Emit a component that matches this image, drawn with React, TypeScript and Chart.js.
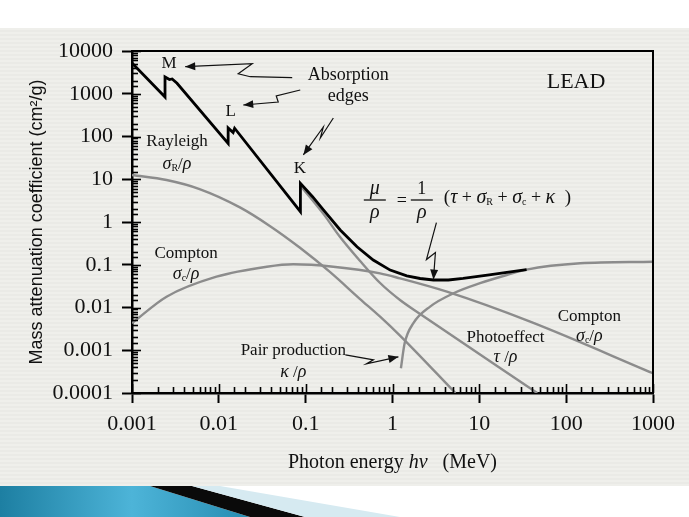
import React, { useEffect, useRef } from 'react';
import { Chart, registerables } from 'chart.js';

Chart.register(...registerables);

// ---------------- data ----------------
const xTickLabels = ['0.001', '0.01', '0.1', '1', '10', '100', '1000'];
const yTickLabels = ['0.0001', '0.001', '0.01', '0.1', '1', '10', '100', '1000', '10000'];

// total mu/rho (black), with M, L and K absorption edges
const totalEnergy = [0.001, 0.0024, 0.0024, 0.0027, 0.0029, 0.0033, 0.0128, 0.0128, 0.0146, 0.0152, 0.087, 0.087, 0.12, 0.16, 0.25, 0.39, 0.6, 0.94, 1.46, 2.08, 2.96, 4.4, 6.5, 13, 20.7, 35];
const totalMu = [5230, 840, 2470, 2150, 2220, 1755, 69, 158, 124, 156, 1.75, 8.0, 3.9, 1.91, 0.65, 0.264, 0.129, 0.075, 0.055, 0.0477, 0.044, 0.044, 0.048, 0.058, 0.066, 0.077];

// Rayleigh sigma_R/rho
const rayleighEnergy = [0.001, 0.0025, 0.006, 0.0175, 0.039, 0.086, 0.19, 0.42, 0.72, 1.22, 5.3];
const rayleighMu = [12.6, 9.6, 5.9, 2.2, 0.8, 0.25, 0.068, 0.016, 0.0061, 0.0022, 0.0001];

// Compton sigma_c/rho
const comptonEnergy = [0.001, 0.0025, 0.0094, 0.0357, 0.072, 0.208, 0.72, 1.22, 4.23, 38.5, 1000];
const comptonMu = [0.0043, 0.0179, 0.0526, 0.09, 0.1026, 0.09, 0.063, 0.048, 0.0234, 0.00466, 0.00029];

// Photoeffect tau/rho (below the K edge it lies under the total curve)
const photoEnergy = [0.088, 0.16, 0.249, 0.424, 0.72, 1.22, 2.08, 46.4];
const photoMu = [6.9, 1.55, 0.446, 0.1225, 0.0374, 0.015, 0.00705, 0.0001];

// Pair production kappa/rho
const pairEnergy = [1.25, 1.38, 1.74, 2.71, 5.04, 10.2, 20.7, 35, 145, 1000];
const pairMu = [0.00038, 0.00145, 0.0043, 0.0105, 0.0215, 0.037, 0.0576, 0.077, 0.108, 0.118];

// ---------------- styling ----------------
const SERIF = '"Liberation Serif", "Times New Roman", serif';
const SANS = '"Liberation Sans", Arial, sans-serif';
const GRAY = '#8c8c8c';
const rm = (s: number) => `${s}px ${SERIF}`;
const it = (s: number) => `italic ${s}px ${SERIF}`;

function isDecade(v: number) {
  const l = Math.log10(v);
  return Math.abs(l - Math.round(l)) < 1e-6;
}
function decadeLabel(v: number, labels: string[]) {
  if (!isDecade(v)) return '';
  const f = labels.find((l) => Math.abs(Math.log10(parseFloat(l)) - Math.log10(v)) < 1e-6);
  return f ?? '';
}
const pts = (xs: number[], ys: number[]) => xs.map((x, i) => ({ x, y: ys[i] }));

type Part = { t: string; font: string; dy?: number };
const sub = (t: string): Part => ({ t, font: rm(10), dy: 4 });

// text annotations anchored in data coordinates (energy MeV, mu/rho)
const textLabels: { e: number; mu: number; parts: Part[] }[] = [
  { e: 0.00267, mu: 4970, parts: [{ t: 'M', font: rm(17) }] },
  { e: 0.0137, mu: 380, parts: [{ t: 'L', font: rm(17) }] },
  { e: 0.086, mu: 18, parts: [{ t: 'K', font: rm(17) }] },
  { e: 0.31, mu: 2750, parts: [{ t: 'Absorption', font: rm(18) }] },
  { e: 0.31, mu: 885, parts: [{ t: 'edges', font: rm(18) }] },
  { e: 130, mu: 1900, parts: [{ t: 'LEAD', font: rm(22) }] },
  { e: 0.0033, mu: 75, parts: [{ t: 'Rayleigh', font: rm(17) }] },
  { e: 0.0033, mu: 22, parts: [{ t: 'σ', font: it(18) }, sub('R'), { t: '/', font: rm(17) }, { t: 'ρ', font: it(18) }] },
  { e: 0.0042, mu: 0.185, parts: [{ t: 'Compton', font: rm(17) }] },
  { e: 0.0042, mu: 0.06, parts: [{ t: 'σ', font: it(18) }, sub('c'), { t: '/', font: rm(17) }, { t: 'ρ', font: it(18) }] },
  { e: 0.072, mu: 0.00096, parts: [{ t: 'Pair production', font: rm(17) }] },
  { e: 0.072, mu: 0.0003, parts: [{ t: 'κ', font: it(18) }, { t: ' /', font: rm(17) }, { t: 'ρ', font: it(18) }] },
  { e: 20, mu: 0.002, parts: [{ t: 'Photoeffect', font: rm(17) }] },
  { e: 20, mu: 0.00068, parts: [{ t: 'τ', font: it(18) }, { t: ' /', font: rm(17) }, { t: 'ρ', font: it(18) }] },
  { e: 185, mu: 0.0061, parts: [{ t: 'Compton', font: rm(17) }] },
  { e: 185, mu: 0.00207, parts: [{ t: 'σ', font: it(18) }, sub('c'), { t: '/', font: rm(17) }, { t: 'ρ', font: it(18) }] },
];

// arrows: tip in data coordinates, path (start -> tip) as pixel offsets from the tip
const arrows: { e: number; mu: number; path: number[][] }[] = [
  { e: 0.0041, mu: 4290, path: [[107, 11], [65, 10], [53, 7], [67, -3], [0, 0]] },
  { e: 0.0191, mu: 546, path: [[57, -15], [33, -9], [35, -3], [0, 0]] },
  { e: 0.094, mu: 37, path: [[30, -37], [17, -17], [20, -28], [0, 0]] },
  { e: 2.96, mu: 0.045, path: [[3, -57], [-7, -20], [2, -27], [0, 0]] },
  { e: 1.17, mu: 0.0007, path: [[-53, -2], [-25, 3], [-32, 7], [0, 0]] },
];

// formula anchor (the '=' sign) in data coordinates
const formulaAnchor = { e: 1.28, mu: 3.27 };

function drawParts(ctx: CanvasRenderingContext2D, parts: Part[], x: number, y: number, align: 'center' | 'left') {
  let w = 0;
  for (const p of parts) {
    ctx.font = p.font;
    w += ctx.measureText(p.t).width;
  }
  let cx = align === 'center' ? x - w / 2 : x;
  ctx.textAlign = 'left';
  ctx.textBaseline = 'middle';
  for (const p of parts) {
    ctx.font = p.font;
    ctx.fillText(p.t, cx, y + (p.dy || 0));
    cx += ctx.measureText(p.t).width;
  }
}

const backgroundPlugin = {
  id: 'slideBackground',
  beforeDraw(chart: any) {
    const ctx: CanvasRenderingContext2D = chart.ctx;
    const W = chart.width;
    const H = chart.height;
    ctx.save();
    ctx.fillStyle = '#ffffff';
    ctx.fillRect(0, 0, W, H);
    const panelTop = 28;
    const panelBottom = 486;
    ctx.fillStyle = '#eaeae6';
    ctx.fillRect(0, panelTop, W, panelBottom - panelTop);
    ctx.fillStyle = '#efefeb';
    for (let yy = panelTop; yy < panelBottom; yy += 4) ctx.fillRect(0, yy, W, 2);
    // bottom decoration
    const g = ctx.createLinearGradient(0, 0, 240, 0);
    g.addColorStop(0, '#1d7fa2');
    g.addColorStop(0.55, '#4db4d8');
    g.addColorStop(1, '#2a90b5');
    ctx.fillStyle = g;
    ctx.beginPath();
    ctx.moveTo(0, panelBottom);
    ctx.lineTo(150, panelBottom);
    ctx.lineTo(250, H);
    ctx.lineTo(0, H);
    ctx.closePath();
    ctx.fill();
    ctx.fillStyle = '#0a0a0a';
    ctx.beginPath();
    ctx.moveTo(150, panelBottom);
    ctx.lineTo(192, panelBottom);
    ctx.lineTo(305, H);
    ctx.lineTo(250, H);
    ctx.closePath();
    ctx.fill();
    ctx.fillStyle = '#d6eaf1';
    ctx.beginPath();
    ctx.moveTo(192, panelBottom);
    ctx.lineTo(220, panelBottom);
    ctx.lineTo(400, H);
    ctx.lineTo(305, H);
    ctx.closePath();
    ctx.fill();
    ctx.restore();
  },
};

const decorPlugin = {
  id: 'decor',
  afterDraw(chart: any) {
    const ctx: CanvasRenderingContext2D = chart.ctx;
    const xs = chart.scales.x;
    const ys = chart.scales.y;
    const { left, right, top, bottom } = chart.chartArea;
    ctx.save();
    // frame top & right
    ctx.strokeStyle = '#000';
    ctx.lineWidth = 2;
    ctx.beginPath();
    ctx.moveTo(left, top);
    ctx.lineTo(right, top);
    ctx.lineTo(right, bottom);
    ctx.stroke();
    // inward ticks
    ctx.lineWidth = 1.6;
    for (const t of xs.ticks) {
      const px = Math.round(xs.getPixelForValue(t.value)) + 0.5;
      const len = isDecade(t.value) ? 9 : 6;
      ctx.beginPath();
      ctx.moveTo(px, bottom);
      ctx.lineTo(px, bottom - len);
      ctx.stroke();
    }
    for (const t of ys.ticks) {
      const py = Math.round(ys.getPixelForValue(t.value)) + 0.5;
      const len = isDecade(t.value) ? 9 : 6;
      ctx.beginPath();
      ctx.moveTo(left, py);
      ctx.lineTo(left + len, py);
      ctx.stroke();
    }
    ctx.fillStyle = '#111';
    // text labels
    for (const l of textLabels) {
      drawParts(ctx, l.parts, xs.getPixelForValue(l.e), ys.getPixelForValue(l.mu), 'center');
    }
    // formula
    const ax = xs.getPixelForValue(formulaAnchor.e);
    const ay = ys.getPixelForValue(formulaAnchor.mu);
    ctx.lineWidth = 1.3;
    ctx.strokeStyle = '#111';
    drawParts(ctx, [{ t: 'μ', font: it(20) }], ax - 27, ay - 11, 'center');
    drawParts(ctx, [{ t: 'ρ', font: it(20) }], ax - 27, ay + 13, 'center');
    ctx.beginPath();
    ctx.moveTo(ax - 38, ay);
    ctx.lineTo(ax - 16, ay);
    ctx.stroke();
    drawParts(ctx, [{ t: '=', font: rm(18) }], ax, ay + 1, 'center');
    drawParts(ctx, [{ t: '1', font: rm(18) }], ax + 20, ay - 11, 'center');
    drawParts(ctx, [{ t: 'ρ', font: it(20) }], ax + 20, ay + 13, 'center');
    ctx.beginPath();
    ctx.moveTo(ax + 9, ay);
    ctx.lineTo(ax + 31, ay);
    ctx.stroke();
    drawParts(
      ctx,
      [
        { t: '(', font: rm(19) },
        { t: 'τ', font: it(20) },
        { t: ' + ', font: rm(18) },
        { t: 'σ', font: it(20) },
        sub('R'),
        { t: ' + ', font: rm(18) },
        { t: 'σ', font: it(20) },
        sub('c'),
        { t: ' + ', font: rm(18) },
        { t: 'κ', font: it(20) },
        { t: '  )', font: rm(19) },
      ],
      ax + 42,
      ay - 2,
      'left'
    );
    // arrows
    ctx.lineWidth = 1.2;
    for (const a of arrows) {
      const tx = xs.getPixelForValue(a.e);
      const ty = ys.getPixelForValue(a.mu);
      ctx.beginPath();
      a.path.forEach(([dx, dy], i) => {
        if (i === 0) ctx.moveTo(tx + dx, ty + dy);
        else ctx.lineTo(tx + dx, ty + dy);
      });
      ctx.stroke();
      const prev = a.path[a.path.length - 2];
      const ang = Math.atan2(-prev[1], -prev[0]);
      const L = 10;
      const Wd = 4;
      ctx.beginPath();
      ctx.moveTo(tx, ty);
      ctx.lineTo(tx - L * Math.cos(ang) + Wd * Math.sin(ang), ty - L * Math.sin(ang) - Wd * Math.cos(ang));
      ctx.lineTo(tx - L * Math.cos(ang) - Wd * Math.sin(ang), ty - L * Math.sin(ang) + Wd * Math.cos(ang));
      ctx.closePath();
      ctx.fill();
    }
    // x axis title with italic hv
    drawParts(
      ctx,
      [
        { t: 'Photon energy ', font: rm(20) },
        { t: 'hv', font: it(20) },
        { t: '   (MeV)', font: rm(20) },
      ],
      (left + right) / 2,
      463,
      'center'
    );
    ctx.restore();
  },
};

export default function App() {
  const ref = useRef<HTMLCanvasElement | null>(null);
  useEffect(() => {
    document.body.style.margin = '0';
    const canvas = ref.current;
    if (!canvas) return;
    const tickColor = (c: any) => (c.tick && isDecade(c.tick.value) ? '#000' : 'rgba(0,0,0,0)');
    const chart = new Chart(canvas, {
      type: 'scatter',
      data: {
        datasets: [
          { label: 'Total μ/ρ', data: pts(totalEnergy, totalMu), showLine: true, borderColor: '#000', borderWidth: 2.8, pointRadius: 0, tension: 0 },
          { label: 'Pair production κ/ρ', data: pts(pairEnergy, pairMu), showLine: true, borderColor: GRAY, borderWidth: 2.4, pointRadius: 0, cubicInterpolationMode: 'monotone' },
          { label: 'Photoeffect τ/ρ', data: pts(photoEnergy, photoMu), showLine: true, borderColor: GRAY, borderWidth: 2.4, pointRadius: 0, cubicInterpolationMode: 'monotone' },
          { label: 'Compton σc/ρ', data: pts(comptonEnergy, comptonMu), showLine: true, borderColor: GRAY, borderWidth: 2.4, pointRadius: 0, cubicInterpolationMode: 'monotone' },
          { label: 'Rayleigh σR/ρ', data: pts(rayleighEnergy, rayleighMu), showLine: true, borderColor: GRAY, borderWidth: 2.4, pointRadius: 0, cubicInterpolationMode: 'monotone' },
        ],
      } as any,
      options: {
        responsive: false,
        animation: false,
        events: [],
        layout: { padding: { left: 0, right: 36, top: 51, bottom: 34 } },
        plugins: { legend: { display: false }, tooltip: { enabled: false } },
        scales: {
          x: {
            type: 'logarithmic',
            min: 0.001,
            max: 1000,
            position: 'bottom',
            border: { display: true, color: '#000', width: 2.5 },
            grid: { drawOnChartArea: false, drawTicks: true, tickLength: 10, tickColor, tickWidth: 2 },
            ticks: {
              autoSkip: false,
              maxRotation: 0,
              minRotation: 0,
              padding: 8,
              color: '#111',
              font: { family: SERIF, size: 22 },
              callback: (v: any) => decadeLabel(Number(v), xTickLabels),
            },
            afterFit: (s: any) => {
              s.height = 90;
            },
          },
          y: {
            type: 'logarithmic',
            min: 0.0001,
            max: 10000,
            position: 'left',
            border: { display: true, color: '#000', width: 2.5 },
            grid: { drawOnChartArea: false, drawTicks: true, tickLength: 10, tickColor, tickWidth: 2 },
            ticks: {
              autoSkip: false,
              padding: 9,
              color: '#111',
              font: { family: SERIF, size: 22 },
              callback: (v: any) => decadeLabel(Number(v), yTickLabels),
            },
            title: {
              display: true,
              text: 'Mass attenuation coefficient (cm²/g)',
              color: '#111',
              font: { family: SANS, size: 18 },
              padding: { top: 26, bottom: 0 },
            },
            afterFit: (s: any) => {
              s.width = 132;
            },
          },
        },
      } as any,
      plugins: [backgroundPlugin, decorPlugin],
    });
    return () => chart.destroy();
  }, []);
  return (
    <div style={{ position: 'absolute', left: 0, top: 0, width: 689, height: 517 }}>
      <canvas ref={ref} width={689} height={517} style={{ display: 'block', width: 689, height: 517 }} />
    </div>
  );
}
